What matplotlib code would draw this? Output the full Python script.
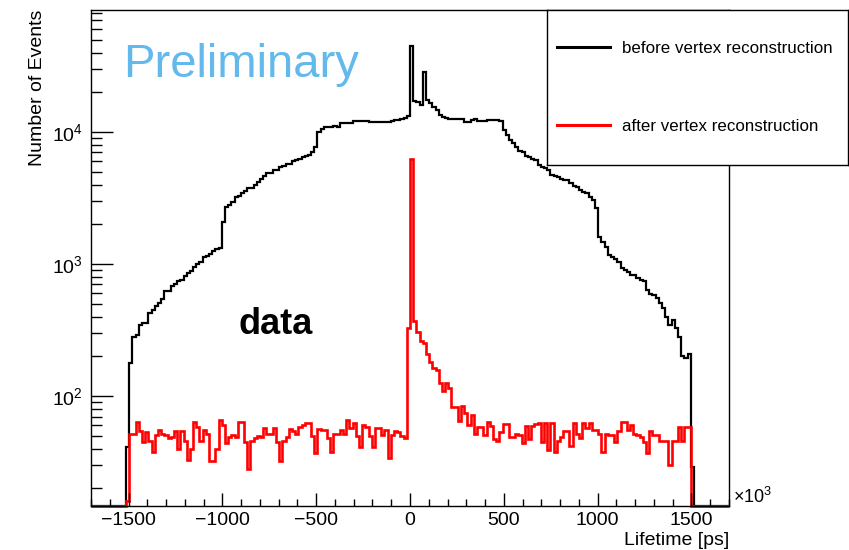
import numpy as np
import matplotlib
matplotlib.use("Agg")
import matplotlib.pyplot as plt
from matplotlib.lines import Line2D
from matplotlib.ticker import MultipleLocator, LogLocator, NullFormatter

plt.rcParams["font.family"] = ["Liberation Sans", "DejaVu Sans"]

# histogram binning (units of 10^3 ps)
bin_lo, bin_hi, n_bins = -1700, 1700, 200
first_bin = 11  # first filled bin, everything outside is empty

before_counts = [
    41, 178, 280, 290, 345, 357, 357, 425, 450, 480,
    505, 543, 625, 630, 680, 705, 740, 755, 810, 850,
    885, 950, 1000, 1035, 1130, 1160, 1190, 1250, 1300, 1320,
    2080, 2700, 2800, 2950, 3200, 3300, 3440, 3600, 3770, 3800,
    4000, 4200, 4400, 4640, 4880, 4880, 5150, 5150, 5420, 5500,
    5700, 5700, 6000, 6100, 6200, 6500, 6600, 6700, 7050, 7700,
    10000, 10500, 10900, 10900, 10900, 11200, 11000, 11800, 11800, 11800,
    11800, 12100, 12100, 12100, 12100, 12100, 12000, 12000, 11900, 11900,
    11900, 11900, 11900, 12200, 12300, 12400, 12500, 12700, 13200, 44900,
    17200, 17000, 16000, 28500, 17500, 16600, 15500, 14600, 13400, 13000,
    12700, 12600, 12600, 12500, 12500, 12500, 12000, 12000, 12400, 12500,
    12100, 12100, 12100, 12300, 12300, 12300, 12300, 12200, 10400, 9500,
    8700, 8300, 7700, 7200, 7100, 6600, 6500, 6200, 6100, 5600,
    5450, 5300, 5150, 4700, 4650, 4550, 4400, 4330, 4330, 4120,
    3900, 3830, 3630, 3500, 3440, 3200, 3050, 2650, 1600, 1470,
    1350, 1170, 1130, 1100, 1035, 930, 900, 870, 825, 830,
    780, 755, 740, 635, 590, 580, 550, 505, 465, 400,
    345, 375, 330, 280, 200, 195, 210, 29,
]

after_counts = [
    16, 52, 52, 64, 54, 45, 53, 46, 38, 51,
    55, 52, 51, 48, 49, 54, 40, 54, 46, 33,
    40, 64, 58, 46, 55, 52, 32, 32, 40, 66,
    60, 44, 49, 51, 49, 64, 64, 45, 28, 46,
    48, 50, 49, 57, 52, 52, 57, 45, 32, 46,
    49, 56, 54, 52, 58, 60, 62, 62, 50, 37,
    56, 55, 55, 48, 38, 52, 52, 55, 52, 66,
    57, 62, 50, 41, 60, 58, 50, 41, 57, 57,
    51, 55, 34, 51, 54, 53, 50, 48, 327, 6300,
    372, 307, 260, 253, 210, 180, 162, 158, 125, 110,
    125, 115, 83, 83, 65, 84, 75, 60, 72, 52,
    58, 58, 51, 64, 59, 47, 46, 53, 61, 61,
    49, 49, 52, 51, 44, 59, 47, 59, 61, 62,
    45, 62, 39, 62, 38, 46, 49, 54, 54, 42,
    62, 52, 48, 62, 57, 62, 55, 55, 52, 38,
    52, 51, 51, 45, 54, 64, 64, 55, 60, 52,
    51, 49, 45, 37, 54, 51, 51, 46, 46, 46,
    30, 46, 46, 58, 46, 58, 58, 0,
]

labels = ["before vertex reconstruction", "after vertex reconstruction"]
colors = ["black", "#ff0000"]
widths = [1.6, 1.9]

y_min, y_max = 14.7, 84000


def full_hist(counts):
    h = np.zeros(n_bins)
    h[first_bin:first_bin + len(counts)] = counts
    # empty bins sit on the bottom of the frame, like ROOT draws them
    return np.maximum(h, y_min)


edges = np.linspace(bin_lo, bin_hi, n_bins + 1)

fig = plt.figure(figsize=(8.49, 5.5), dpi=100)
ax = fig.add_axes([91 / 849, 44 / 550, 638 / 849, 496 / 550])
ax.set_yscale("log")

for counts, col, lw in zip([before_counts, after_counts], colors, widths):
    ax.stairs(full_hist(counts), edges, baseline=None, color=col,
              lw=lw, clip_on=False)

ax.set_xlim(bin_lo, bin_hi)
ax.set_ylim(y_min, y_max)

ax.xaxis.set_major_locator(MultipleLocator(500))
ax.xaxis.set_minor_locator(MultipleLocator(100))
ax.yaxis.set_major_locator(LogLocator(base=10))
ax.yaxis.set_minor_locator(LogLocator(base=10, subs=np.arange(2, 10)))
ax.yaxis.set_minor_formatter(NullFormatter())

ax.tick_params(which="both", direction="in", top=False, right=False,
               labelsize=14, width=1.0)
ax.tick_params(axis="y", which="major", length=16, pad=6)
ax.tick_params(axis="y", which="minor", length=8)
ax.tick_params(axis="x", which="major", length=9.5, pad=4)
ax.tick_params(axis="x", which="minor", length=4.7)
for sp in ax.spines.values():
    sp.set_linewidth(1.0)

ax.set_xlabel("Lifetime [ps]", fontsize=14, loc="right")
ax.set_ylabel("Number of Events", fontsize=14, loc="top")
ax.xaxis.set_label_coords(1.0, -0.052)
ax.yaxis.set_label_coords(-0.0705, 1.0)

fig.text(733 / 849, 1 - 497 / 550, r"$\mathregular{\times10^{3}}$",
         fontsize=13, va="center", ha="left")
fig.text(123 / 849, 1 - 65 / 550, "Preliminary", color="#63b8ec",
         fontsize=34, va="center", ha="left")
fig.text(238 / 849, 1 - 325 / 550, "data", fontsize=26,
         fontweight="bold", va="center", ha="left")

# legend box, opaque, sits over the top-right corner of the frame
leg_ax = fig.add_axes([547 / 849, 385 / 550, 301 / 849, 155 / 550])
leg_ax.set_xticks([])
leg_ax.set_yticks([])
leg_ax.set_facecolor("white")
for sp in leg_ax.spines.values():
    sp.set_linewidth(1.0)
handles = [Line2D([], [], color=c, lw=2.2) for c in colors]
leg_ax.legend(handles, labels, loc="center left", frameon=False,
              fontsize=12.2, handlelength=3.1, handletextpad=0.7,
              labelspacing=3.75, borderpad=0, borderaxespad=0.6)

fig.savefig("out.png", dpi=100)
